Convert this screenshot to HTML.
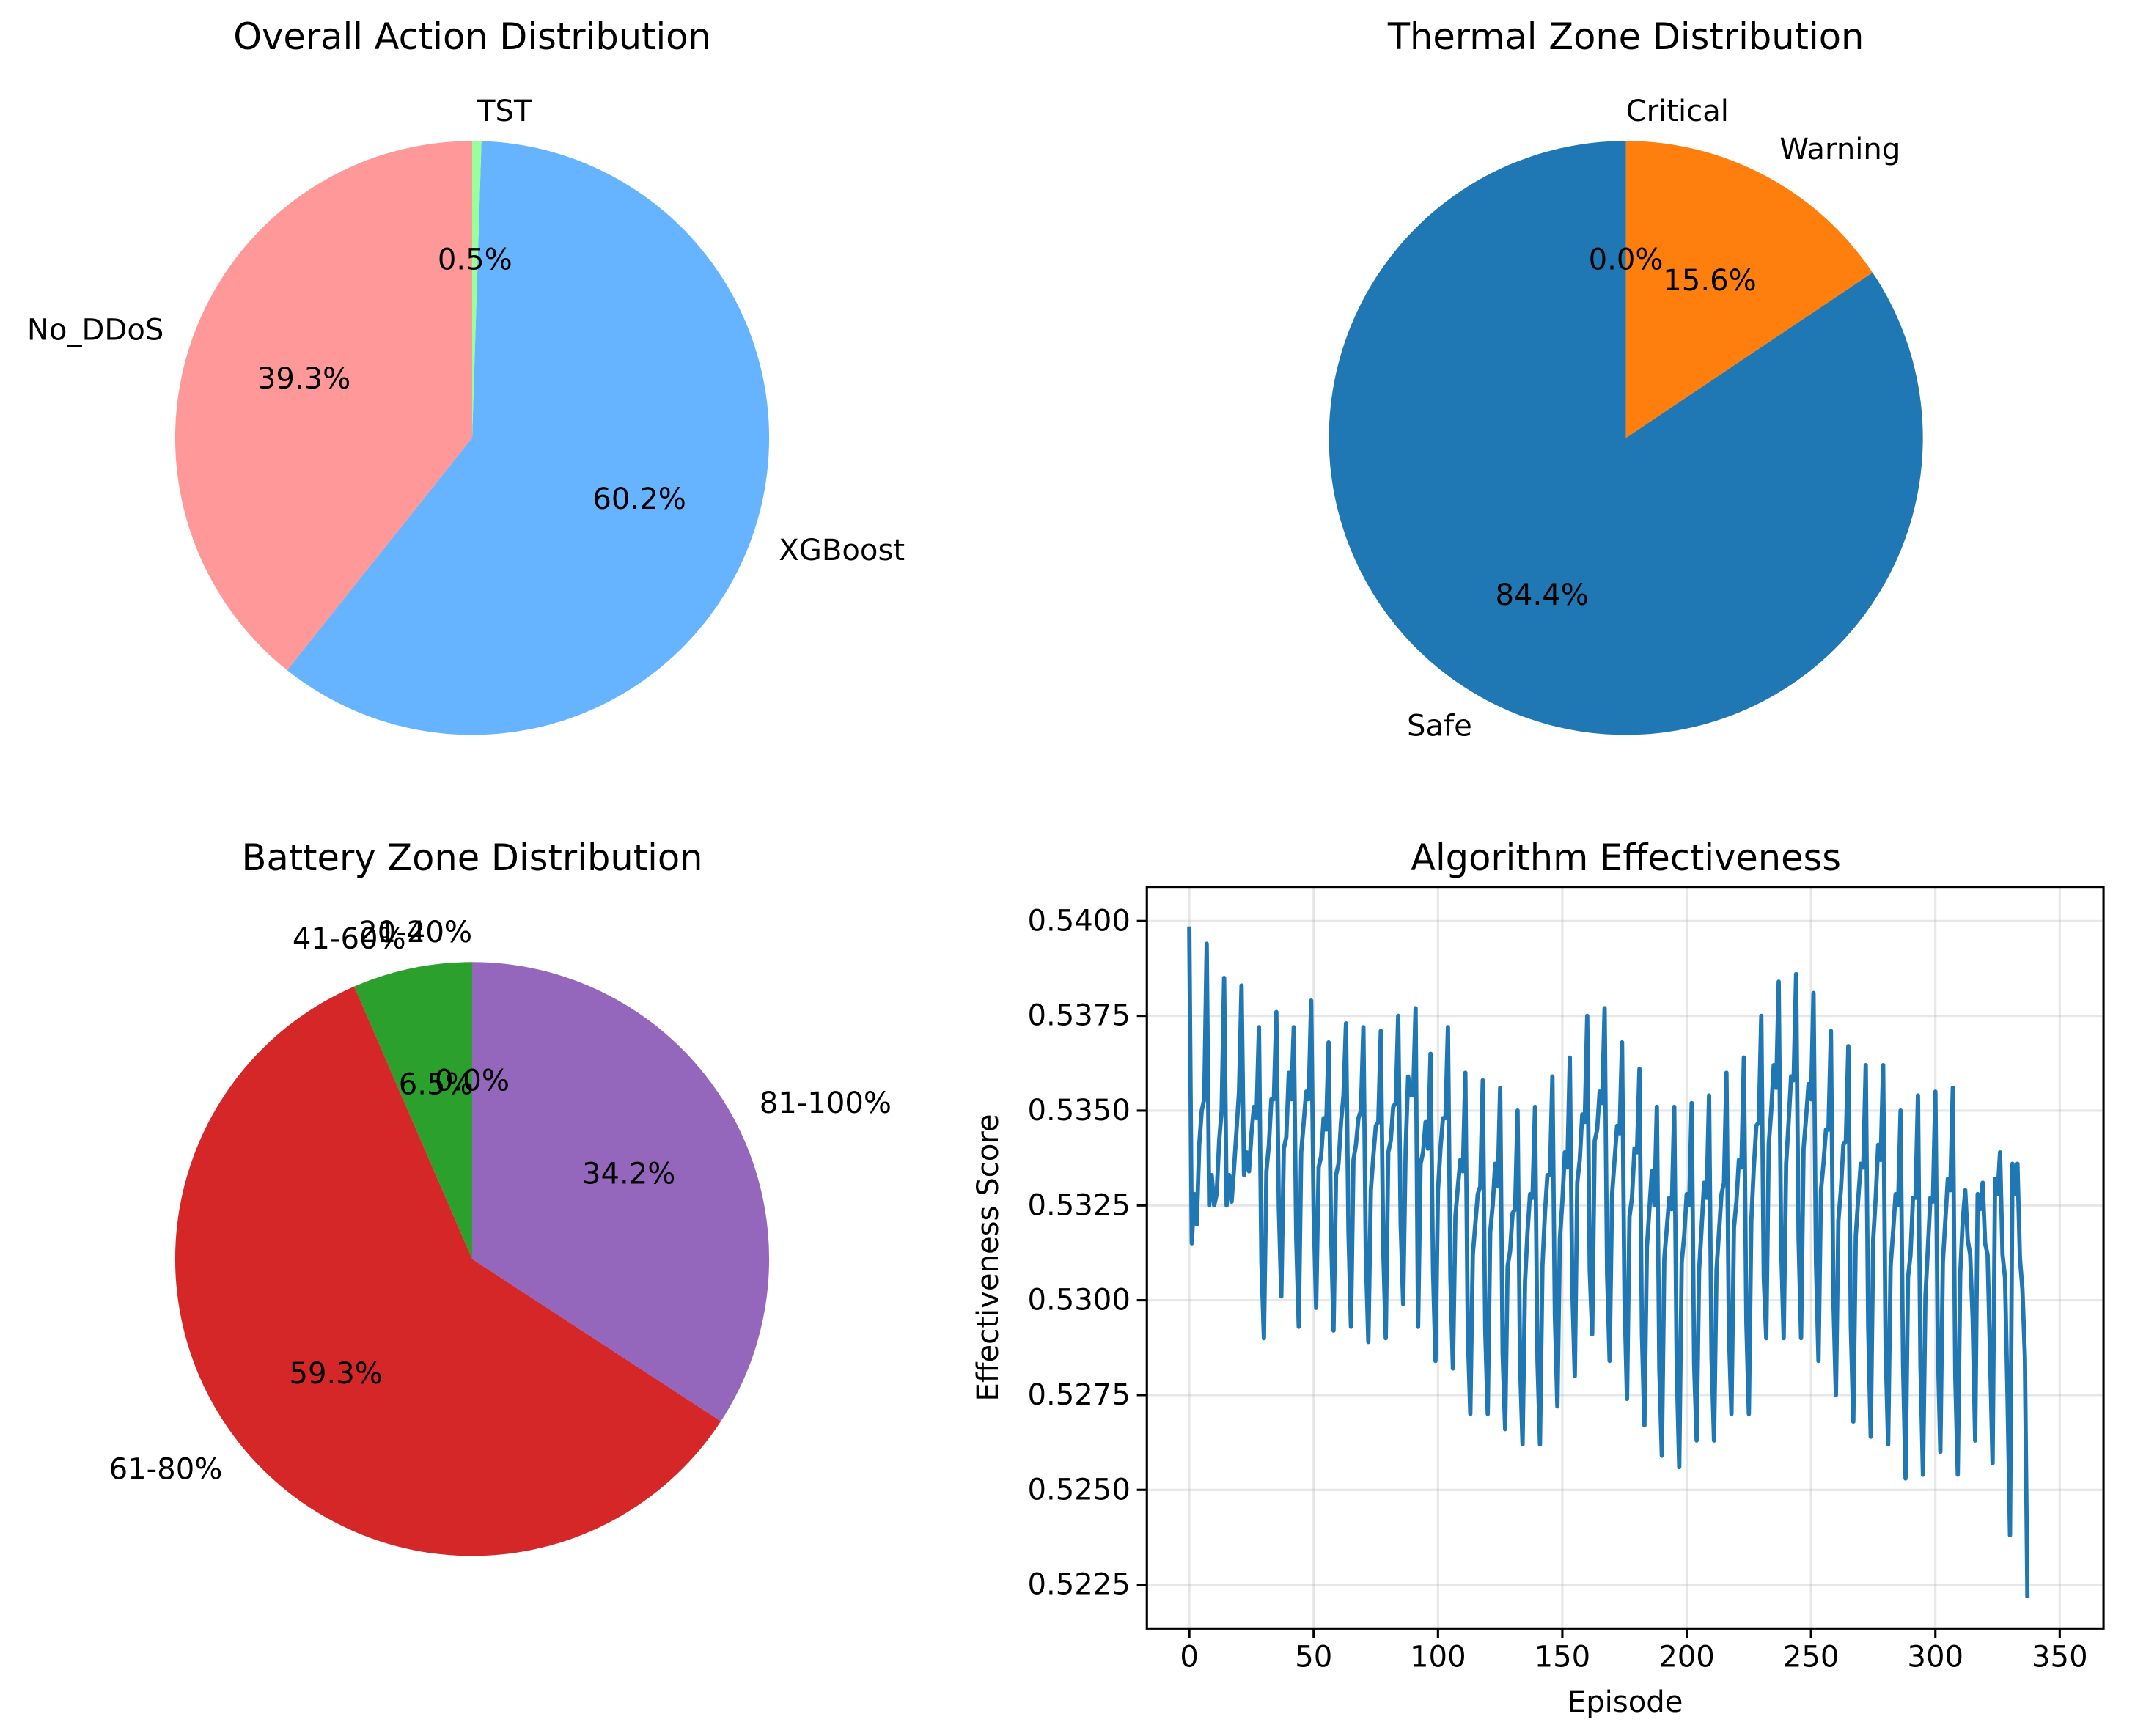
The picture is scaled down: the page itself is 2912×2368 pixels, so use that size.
<!DOCTYPE html>
<html><head><meta charset="utf-8"><style>
html,body{margin:0;padding:0;background:#fff;}
svg{display:block;font-family:"DejaVu Sans","Liberation Sans",sans-serif;}
</style></head>
<body>
<svg id="fig" width="2912" height="2368" viewBox="0 0 1560 1268.57" xmlns="http://www.w3.org/2000/svg">
<rect x="0" y="0" width="1560" height="1268.57" fill="#fff"/>
<text x="345" y="36" font-size="26.5" text-anchor="middle">Overall Action Distribution</text>
<text x="1188" y="36" font-size="26.5" text-anchor="middle">Thermal Zone Distribution</text>
<text x="345" y="636" font-size="26.5" text-anchor="middle">Battery Zone Distribution</text>
<text x="1188" y="636" font-size="26.5" text-anchor="middle">Algorithm Effectiveness</text>
<g id="pies"></g>
<g id="linechart"></g>
</svg>
<script>
// ---- pie data ----
const actionLabels = ["No_DDoS","XGBoost","TST"];
const actionValues = [39.3, 60.2, 0.5];
const actionColors = ["#ff9999","#66b3ff","#99ff99"];
const thermalLabels = ["Safe","Warning","Critical"];
const thermalValues = [84.4, 15.6, 0.0];
const thermalColors = ["#1f77b4","#ff7f0e","#2ca02c"];
const batteryLabels = ["0-20%","21-40%","41-60%","61-80%","81-100%"];
const batteryValues = [0.0, 0.0, 6.5, 59.3, 34.2];
const batteryColors = ["#1f77b4","#ff7f0e","#2ca02c","#d62728","#9467bd"];
// ---- line data ----
const effectiveness = [
.5398,.5315,.5328,.5320,.5341,.5350,.5353,.5394,
.5325,.5333,.5325,.5328,.5342,.5350,.5385,
.5325,.5333,.5326,.5335,.5345,.5355,.5383,
.5333,.5339,.5334,.5344,.5351,.5348,.5372,
.5310,.5290,.5334,.5341,.5353,.5353,.5376,
.5324,.5301,.5340,.5343,.5360,.5353,.5372,
.5316,.5293,.5339,.5347,.5355,.5353,.5379,
.5323,.5298,.5335,.5338,.5348,.5345,.5368,
.5318,.5292,.5333,.5336,.5347,.5354,.5373,
.5318,.5293,.5337,.5341,.5348,.5350,.5372,
.5311,.5289,.5329,.5338,.5346,.5347,.5371,
.5313,.5290,.5339,.5342,.5351,.5352,.5375,
.5320,.5299,.5340,.5359,.5354,.5354,.5377,
.5293,.5336,.5339,.5347,.5340,.5365,
.5308,.5284,.5329,.5340,.5348,.5348,.5372,
.5306,.5282,.5322,.5330,.5337,.5334,.5360,
.5291,.5270,.5312,.5320,.5328,.5330,.5358,
.5292,.5270,.5318,.5325,.5336,.5330,.5356,
.5286,.5266,.5309,.5313,.5323,.5324,.5350,
.5283,.5262,.5305,.5318,.5328,.5327,.5351,
.5284,.5262,.5309,.5323,.5333,.5333,.5359,
.5296,.5272,.5316,.5326,.5339,.5335,.5364,
.5303,.5280,.5331,.5337,.5349,.5347,.5375,
.5308,.5291,.5342,.5345,.5355,.5352,.5377,
.5307,.5284,.5328,.5337,.5346,.5344,.5368,
.5300,.5274,.5322,.5327,.5340,.5339,.5361,
.5291,.5267,.5314,.5324,.5334,.5325,.5351,
.5282,.5259,.5311,.5319,.5327,.5324,.5351,
.5282,.5256,.5310,.5317,.5328,.5325,.5352,
.5283,.5263,.5308,.5319,.5331,.5327,.5354,
.5285,.5263,.5308,.5318,.5328,.5331,.5360,
.5291,.5270,.5319,.5326,.5337,.5335,.5364,
.5294,.5270,.5321,.5335,.5346,.5347,.5375,
.5306,.5290,.5341,.5350,.5362,.5356,.5384,
.5314,.5290,.5336,.5347,.5359,.5358,.5386,
.5316,.5290,.5340,.5348,.5357,.5353,.5381,
.5310,.5284,.5329,.5336,.5345,.5345,.5371,
.5300,.5275,.5321,.5329,.5341,.5342,.5367,
.5293,.5268,.5317,.5327,.5336,.5335,.5362,
.5293,.5264,.5316,.5327,.5341,.5337,.5362,
.5287,.5262,.5309,.5318,.5328,.5325,.5350,
.5283,.5253,.5306,.5312,.5327,.5327,.5354,
.5283,.5254,.5301,.5314,.5327,.5326,.5355,
.5287,.5260,.5310,.5321,.5332,.5329,.5356,
.5280,.5254,.5307,.5321,.5329,.5316,.5312,
.5295,.5263,.5328,.5324,.5331,.5315,.5312,
.5285,.5257,.5332,.5328,.5339,.5312,.5306,
.5275,.5238,.5336,.5328,.5336,.5311,.5303,.5285,.5222
];
const yTicks = [0.5225,0.5250,0.5275,0.5300,0.5325,0.5350,0.5375,0.5400];
const xTicks = [0,50,100,150,200,250,300,350];

const NS="http://www.w3.org/2000/svg";
function mk(tag, attrs, parent){const e=document.createElementNS(NS,tag);for(const k in attrs)e.setAttribute(k,attrs[k]);parent.appendChild(e);return e;}

function drawPie(name, cx, cy, r, labels, values, colors, zeroAlign){
  const g=mk('g',{},document.getElementById('pies'));
  
  
  const wedges=mk('g',{},g);
  const texts=mk('g',{},g);
  const total=values.reduce((a,b)=>a+b,0);
  let a0=90;
  values.forEach((v,i)=>{
    const span=360*v/total, a1=a0+span, mid=a0+span/2;
    if(span>0){
      const t0=a0*Math.PI/180,t1=a1*Math.PI/180;
      const x0=cx+r*Math.cos(t0),y0=cy-r*Math.sin(t0),x1=cx+r*Math.cos(t1),y1=cy-r*Math.sin(t1);
      const large=span>180?1:0;
      const p=mk('path',{d:`M${cx},${cy} L${x0},${y0} A${r},${r} 0 ${large} 0 ${x1},${y1} Z`,fill:colors[i]},wedges);
      
      
    }
    const tm=mid*Math.PI/180, c=Math.cos(tm), s=Math.sin(tm);
    const lx=cx+1.1*r*c, ly=cy-1.1*r*s;
    let anchor = c>1e-6?'start':(c<-1e-6?'end':zeroAlign);
    const lt=mk('text',{x:lx,y:ly,'font-size':21.5,'text-anchor':anchor,'dominant-baseline':'central'},texts);
    lt.textContent=labels[i];
    
    
    const pt=mk('text',{x:cx+0.6*r*c,y:cy-0.6*r*s,'font-size':21.5,'text-anchor':'middle','dominant-baseline':'central'},texts);
    pt.textContent=(100*v/total).toFixed(1)+'%';
    
    
    a0=a1;
  });
}
drawPie('action-pie',345,320,217,actionLabels,actionValues,actionColors,'start');
drawPie('thermal-pie',1188,320,217,thermalLabels,thermalValues,thermalColors,'start');
drawPie('battery-pie',345,920,217,batteryLabels,batteryValues,batteryColors,'end');

// ---- line chart ----
const g=document.getElementById('linechart');
const L=838,R=1537,T=648,B=1190;
const xs=v=>869+(v-0)*(1505-869)/350;
const ys=v=>673+(0.5400-v)*(1158-673)/0.0175;
yTicks.forEach(t=>{
  const y=ys(t);
  const gl=mk('line',{x1:L,x2:R,y1:y,y2:y,stroke:'#b0b0b0','stroke-opacity':0.3,'stroke-width':1.67},g);
  
  
  mk('line',{x1:L-7.3,x2:L,y1:y,y2:y,stroke:'#000','stroke-width':1.67},g);
  const tx=mk('text',{x:L-12,y:y,'font-size':21.5,'text-anchor':'end','dominant-baseline':'central'},g);
  tx.textContent=t.toFixed(4);
  
  
});
xTicks.forEach(t=>{
  const x=xs(t);
  const gl=mk('line',{x1:x,x2:x,y1:T,y2:B,stroke:'#b0b0b0','stroke-opacity':0.3,'stroke-width':1.67},g);
  
  
  mk('line',{x1:x,x2:x,y1:B,y2:B+7.3,stroke:'#000','stroke-width':1.67},g);
  const tx=mk('text',{x:x,y:B+28,'font-size':21.5,'text-anchor':'middle'},g);
  tx.textContent=String(t);
  
  
});
const pts=effectiveness.map((v,i)=>xs(i).toFixed(2)+','+ys(v).toFixed(2)).join(' ');
const pl=mk('polyline',{points:pts,fill:'none',stroke:'#1f77b4','stroke-width':3.1,'stroke-linejoin':'round','stroke-linecap':'square'},g);


const fr=mk('rect',{x:L,y:T,width:R-L,height:B-T,fill:'none',stroke:'#000','stroke-width':1.67},g);


const xl=mk('text',{x:(L+R)/2,y:1251,'font-size':21.5,'text-anchor':'middle'},g);
xl.textContent='Episode';


const yl=mk('text',{x:0,y:0,'font-size':21.5,'text-anchor':'middle',transform:`translate(729,${(T+B)/2}) rotate(-90)`},g);
yl.textContent='Effectiveness Score';


</script>
</body></html>
